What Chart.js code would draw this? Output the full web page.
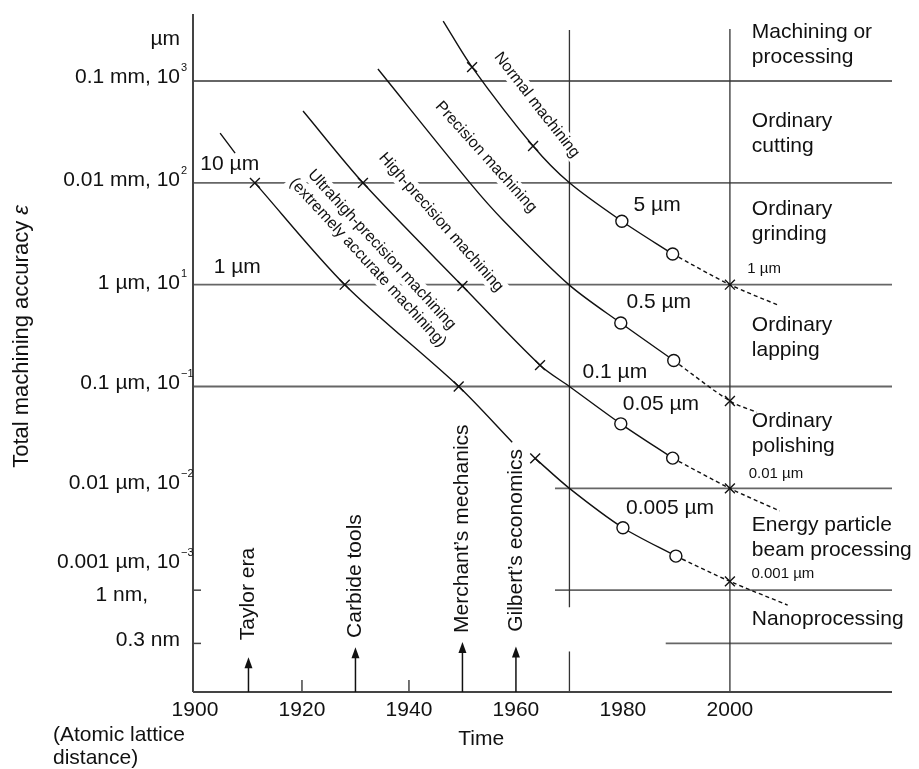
<!DOCTYPE html>
<html>
<head>
<meta charset="utf-8">
<script src="https://cdn.jsdelivr.net/npm/chart.js@4.4.1/dist/chart.umd.min.js"></script>
<style>
  body { margin: 0; background: #fff; }
</style>
</head>
<body>
<canvas id="chart" width="919" height="769"></canvas>
<script>
// axis ranges: years and accuracy in µm (log)
const xMin = 1899.63, xMax = 2030.3;
const yMin = 0.0001, yMax = 455;

const yearTicks = [1900, 1920, 1940, 1960, 1980, 2000];
const innerYearTicks = [1920, 1940];
const innerValueTicks = [0.001, 0.0003];

// horizontal level lines (µm) and the year where each one starts
const levelValues = [100, 10, 1, 0.1, 0.01, 0.001, 0.0003];
const levelFrom = [xMin, xMin, xMin, xMin, 1967.3, 1967.3, 1988];

// vertical year lines (1970 is broken near the bottom)
const yearLines = [1970, 1970, 2000];
const yearLineTop = [316, 0.00025, 324];
const yearLineBottom = [0.00068, yMin, yMin];

// y axis labels
const yLabels = ['µm', '0.1 mm, 10', '0.01 mm, 10', '1 µm, 10', '0.1 µm, 10', '0.01 µm, 10', '0.001 µm, 10', '1 nm,', '0.3 nm'];
const yLabelSup = ['', '3', '2', '1', '−1', '−2', '−3', '', ''];
const yLabelAt = [258, 109, 10.6, 1.04, 0.108, 0.0112, 0.00188, 0.00089, 0.00032];

// curves: Normal machining
const normalYears = [1946.4, 1951.8, 1963.2, 1970, 1979.8, 1989.3];
const normalValues = [388, 137, 23, 10, 4.2, 2.0];
const normalMarks = ['', 'x', 'x', '', 'o', 'o'];
const normalDashYears = [1989.3, 2000, 2009.3];
const normalDashValues = [2.0, 1.0, 0.62];
const normalDashMarks = ['', 'x', ''];

// Precision machining
const precYears = [1934.2, 1951.4, 1957.6, 1970, 1979.6, 1989.5];
const precValues = [131, 10, 4.3, 0.99, 0.42, 0.18];
const precMarks = ['', '', '', '', 'o', 'o'];
const precDashYears = [1989.5, 2000, 2005.0];
const precDashValues = [0.18, 0.072, 0.056];
const precDashMarks = ['', 'x', ''];

// High-precision machining
const highYears = [1920.2, 1931.4, 1950, 1964.5, 1970, 1979.6, 1989.3];
const highValues = [50.7, 10, 0.97, 0.162, 0.1, 0.043, 0.0198];
const highMarks = ['', 'x', 'x', 'x', '', 'o', 'o'];
const highDashYears = [1989.3, 2000, 2009.3];
const highDashValues = [0.0198, 0.01, 0.006];
const highDashMarks = ['', 'x', ''];

// Ultrahigh-precision machining (drawn in pieces around labels)
const ultraStubYears = [1904.7, 1907.5];
const ultraStubValues = [30.8, 19.6];
const ultraYears = [1911.2, 1928, 1949.3, 1959.3];
const ultraValues = [10, 1.0, 0.1, 0.0284];
const ultraMarks = ['x', 'x', 'x', ''];
const ultraLateYears = [1963.6, 1970, 1980, 1989.9];
const ultraLateValues = [0.0197, 0.01, 0.0041, 0.00216];
const ultraLateMarks = ['x', '', 'o', 'o'];
const ultraDashYears = [1989.9, 2000, 2010.8];
const ultraDashValues = [0.00216, 0.00122, 0.000713];
const ultraDashMarks = ['', 'x', ''];

// labels along the curves
const curveNames = ['Normal machining', 'Precision machining', 'High-precision machining'];
const curveNameYear = [1963.9, 1954.4, 1946.0];
const curveNameValue = [58, 17.9, 4.1];
const curveNameAngle = [52, 48, 48.5];
const ultraName = ['Ultrahigh-precision machining', '(extremely accurate machining)'];
const ultraNameYear = 1933.6, ultraNameValue = 1.91, ultraNameAngle = 47.4;

// accuracy labels
const bigLabels = ['10 µm', '1 µm', '5 µm', '0.5 µm', '0.1 µm', '0.05 µm', '0.005 µm'];
const bigLabelYear = [1906.5, 1907.9, 1986.4, 1986.7, 1978.5, 1987.1, 1988.8];
const bigLabelValue = [15.3, 1.49, 6.05, 0.675, 0.138, 0.0671, 0.00638];
const smallLabels = ['1 µm', '0.01 µm', '0.001 µm'];
const smallLabelYear = [2006.4, 2008.6, 2009.9];
const smallLabelValue = [1.42, 0.0138, 0.00144];

// process bands on the right
const bandLabels = [['Machining or', 'processing'], ['Ordinary', 'cutting'], ['Ordinary', 'grinding'],
  ['Ordinary', 'lapping'], ['Ordinary', 'polishing'], ['Energy particle', 'beam processing'], ['Nanoprocessing']];
const bandYear = 2004.1;
const bandValue = [228, 30.5, 4.17, 0.302, 0.0344, 0.00328, 0.000519];

// historical events
const eventYears = [1910, 1930, 1950, 1960];
const eventLabels = ['Taylor era', 'Carbide tools', 'Merchant’s mechanics', 'Gilbert’s economics'];
const eventTip = [0.00022, 0.000275, 0.00031, 0.00028];
const eventLabelBase = [0.000323, 0.00034, 0.00038, 0.00039];

const FONT = '"Liberation Sans", Arial, Helvetica, sans-serif';

function pts(years, values) {
    return years.map((yr, i) => ({ x: yr, y: values[i] }));
}

function curve(years, values, marks, dashed) {
    marks = marks || years.map(() => '');
    return {
        data: pts(years, values),
        borderColor: '#111',
        borderWidth: 1.4,
        borderDash: dashed ? [4, 3] : [],
        tension: 0.3,
        fill: false,
        pointStyle: marks.map(m => m === 'o' ? 'circle' : 'crossRot'),
        pointRadius: marks.map(m => m === 'o' ? 6 : (m === 'x' ? 7 : 0)),
        pointBorderWidth: 1.4,
        pointBorderColor: '#111',
        pointBackgroundColor: '#fff',
        order: dashed ? 2 : 1
    };
}

function boxedText(ctx, text, cx, cy, angle, font) {
    ctx.save();
    ctx.translate(cx, cy);
    ctx.rotate(angle * Math.PI / 180);
    ctx.font = font;
    const w = ctx.measureText(text).width;
    ctx.fillStyle = '#fff';
    ctx.fillRect(-w / 2 - 3, -9, w + 6, 18);
    ctx.fillStyle = '#111';
    ctx.textAlign = 'center';
    ctx.textBaseline = 'middle';
    ctx.fillText(text, 0, 0);
    ctx.restore();
}

const decor = {
    id: 'decor',
    beforeDatasetsDraw(chart) {
        const { ctx, chartArea: a } = chart;
        const X = v => chart.scales.x.getPixelForValue(v);
        const Y = v => chart.scales.y.getPixelForValue(v);
        const seg = (x1, y1, x2, y2) => { ctx.beginPath(); ctx.moveTo(x1, y1); ctx.lineTo(x2, y2); ctx.stroke(); };
        ctx.save();

        // level lines
        ctx.strokeStyle = '#666';
        ctx.lineWidth = 1.8;
        levelValues.forEach((v, i) => seg(X(levelFrom[i]), Y(v), a.right, Y(v)));

        // vertical year lines
        ctx.strokeStyle = '#333';
        ctx.lineWidth = 1.3;
        yearLines.forEach((yr, i) => seg(X(yr), Y(yearLineTop[i]), X(yr), Y(yearLineBottom[i])));

        // axes
        ctx.strokeStyle = '#444';
        ctx.lineWidth = 2;
        seg(a.left, a.top, a.left, a.bottom);
        seg(a.left, a.bottom, a.right, a.bottom);
        ctx.lineWidth = 1.5;
        innerYearTicks.forEach(yr => seg(X(yr), a.bottom, X(yr), a.bottom - 12));
        innerValueTicks.forEach(v => seg(a.left, Y(v), a.left + 8, Y(v)));

        ctx.fillStyle = '#111';
        ctx.textBaseline = 'middle';

        // x tick labels
        ctx.font = '21px ' + FONT;
        ctx.textAlign = 'center';
        yearTicks.forEach(yr => ctx.fillText(String(yr), X(yr), a.bottom + 18));
        ctx.fillText('Time', X(1953.5), a.bottom + 47);
        ctx.textAlign = 'left';
        ctx.fillText('(Atomic lattice', 53, a.bottom + 43);
        ctx.fillText('distance)', 53, a.bottom + 66);

        // y tick labels
        yLabels.forEach((t, i) => {
            const yy = Y(yLabelAt[i]);
            const right = t === '1 nm,' ? 148 : 180;
            ctx.font = '21px ' + FONT;
            ctx.textAlign = 'right';
            ctx.fillText(t, right, yy);
            if (yLabelSup[i]) {
                ctx.font = '11px ' + FONT;
                ctx.textAlign = 'left';
                ctx.fillText(yLabelSup[i], right + 1, yy - 9);
            }
        });

        // y axis title
        ctx.save();
        ctx.translate(22, Y(0.31));
        ctx.rotate(-Math.PI / 2);
        ctx.font = '22px ' + FONT;
        const t1 = 'Total machining accuracy ';
        const w1 = ctx.measureText(t1).width;
        ctx.font = 'italic 22px ' + FONT;
        const w2 = ctx.measureText('ε').width;
        ctx.textAlign = 'left';
        ctx.font = '22px ' + FONT;
        ctx.fillText(t1, -(w1 + w2) / 2, 0);
        ctx.font = 'italic 22px ' + FONT;
        ctx.fillText('ε', -(w1 + w2) / 2 + w1, 0);
        ctx.restore();

        // event arrows and labels
        ctx.lineWidth = 1.5;
        ctx.strokeStyle = '#111';
        eventYears.forEach((yr, i) => {
            const xx = X(yr), tip = Y(eventTip[i]);
            seg(xx, a.bottom, xx, tip + 8);
            ctx.beginPath();
            ctx.moveTo(xx, tip);
            ctx.lineTo(xx - 4, tip + 11);
            ctx.lineTo(xx + 4, tip + 11);
            ctx.closePath();
            ctx.fill();
            ctx.save();
            ctx.translate(xx, Y(eventLabelBase[i]));
            ctx.rotate(-Math.PI / 2);
            ctx.font = '21px ' + FONT;
            ctx.textAlign = 'left';
            ctx.fillText(eventLabels[i], 0, 0);
            ctx.restore();
        });

        // band labels on the right
        ctx.font = '21px ' + FONT;
        ctx.textAlign = 'left';
        bandLabels.forEach((lines, i) => {
            const cy = Y(bandValue[i]);
            lines.forEach((ln, k) => ctx.fillText(ln, X(bandYear), cy + (k - (lines.length - 1) / 2) * 24.5));
        });

        // accuracy labels
        ctx.textAlign = 'center';
        bigLabels.forEach((t, i) => ctx.fillText(t, X(bigLabelYear[i]), Y(bigLabelValue[i])));
        ctx.font = '15px ' + FONT;
        smallLabels.forEach((t, i) => ctx.fillText(t, X(smallLabelYear[i]), Y(smallLabelValue[i])));

        // rotated curve names on white boxes
        const nameFont = '16px ' + FONT;
        curveNames.forEach((t, i) => boxedText(ctx, t, X(curveNameYear[i]), Y(curveNameValue[i]), curveNameAngle[i], nameFont));
        const r = ultraNameAngle * Math.PI / 180;
        ultraName.forEach((t, k) => {
            const off = (k - 0.5) * 19;
            boxedText(ctx, t, X(ultraNameYear) - Math.sin(r) * off, Y(ultraNameValue) + Math.cos(r) * off, ultraNameAngle, nameFont);
        });

        ctx.restore();
    }
};

new Chart(document.getElementById('chart'), {
    type: 'line',
    data: {
        datasets: [
            curve(normalYears, normalValues, normalMarks, false),
            curve(normalDashYears, normalDashValues, normalDashMarks, true),
            curve(precYears, precValues, precMarks, false),
            curve(precDashYears, precDashValues, precDashMarks, true),
            curve(highYears, highValues, highMarks, false),
            curve(highDashYears, highDashValues, highDashMarks, true),
            curve(ultraStubYears, ultraStubValues, null, false),
            curve(ultraYears, ultraValues, ultraMarks, false),
            curve(ultraLateYears, ultraLateValues, ultraLateMarks, false),
            curve(ultraDashYears, ultraDashValues, ultraDashMarks, true)
        ]
    },
    options: {
        responsive: false,
        animation: false,
        layout: { padding: { left: 193, right: 27, top: 14, bottom: 77 } },
        scales: {
            x: { type: 'linear', min: xMin, max: xMax, display: false },
            y: { type: 'logarithmic', min: yMin, max: yMax, display: false }
        },
        plugins: {
            legend: { display: false },
            tooltip: { enabled: false }
        }
    },
    plugins: [decor]
});
</script>
</body>
</html>
